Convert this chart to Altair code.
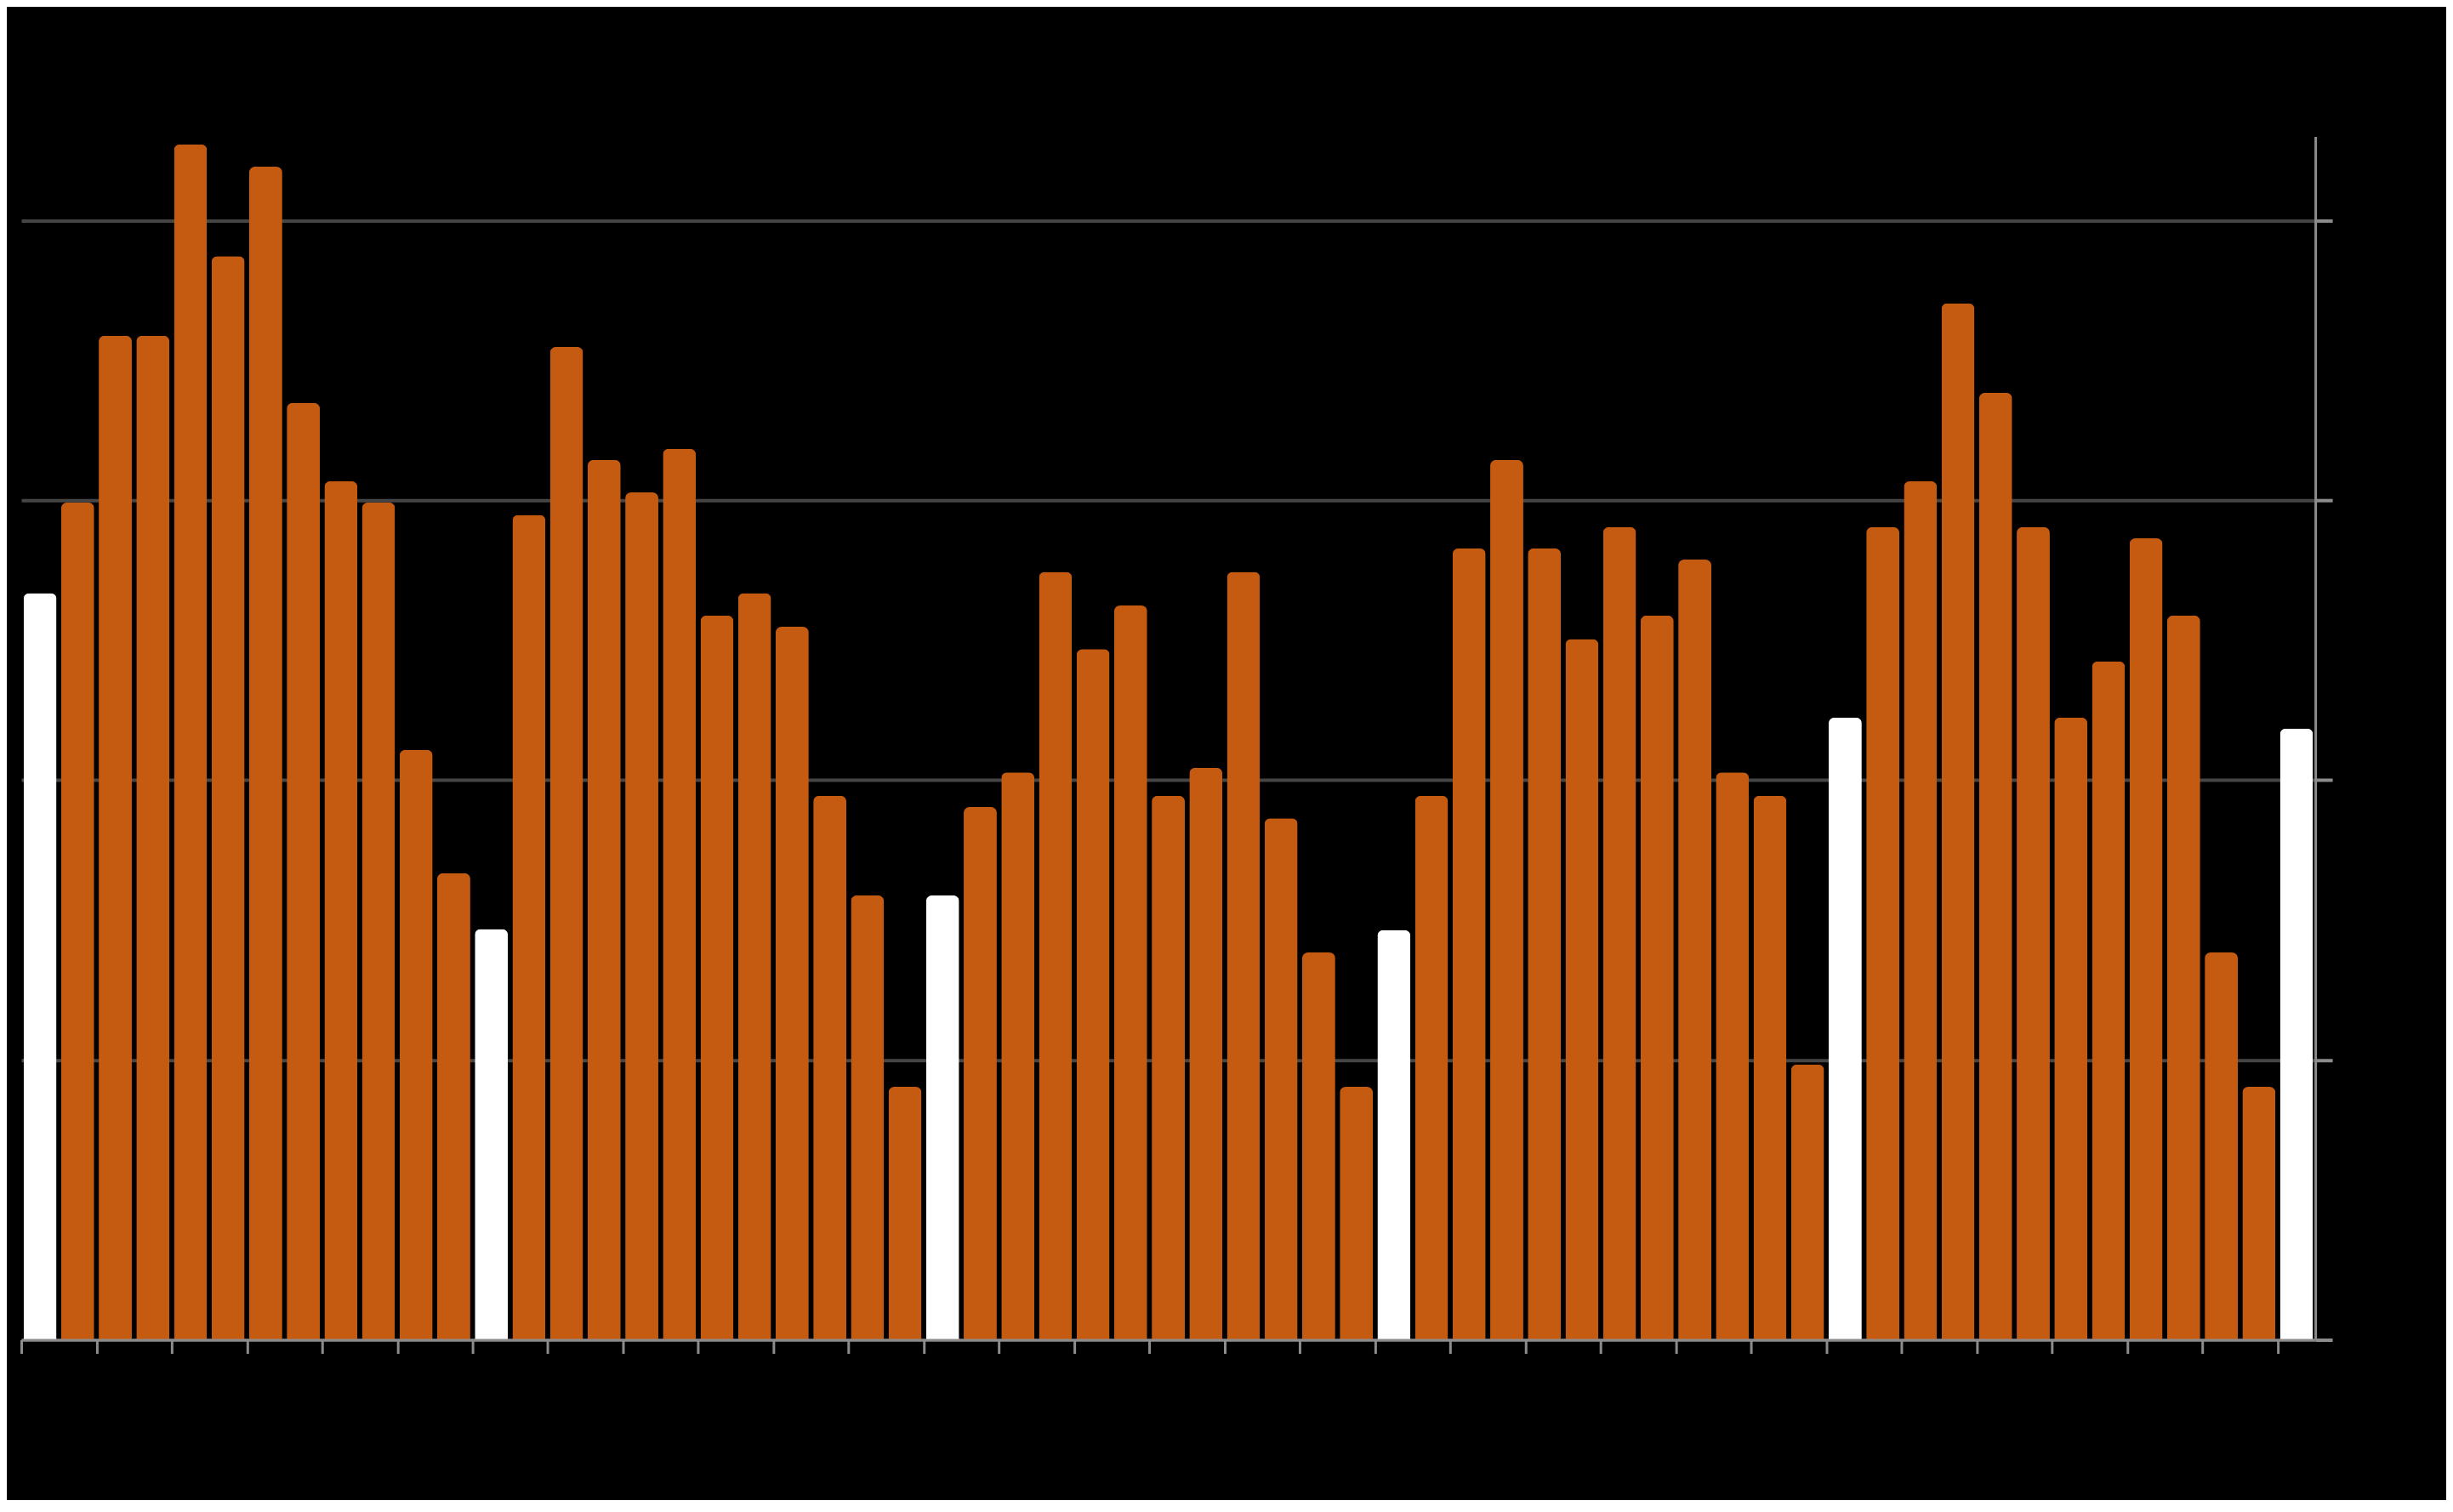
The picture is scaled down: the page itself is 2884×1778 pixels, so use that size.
import altair as alt
import pandas as pd

# Bar heights (gridlines at 0, 25, 50, 75, 100)
values = [
    66.7, 74.8, 89.7, 89.7, 106.8, 96.8, 104.8, 83.7, 76.7, 74.8, 52.7, 41.7,
    36.7, 73.7, 88.7, 78.6, 75.7, 79.6, 64.7, 66.7, 63.7, 48.6, 39.7, 22.6,
    39.7, 47.6, 50.7, 68.6, 61.7, 65.6, 48.6, 51.1, 68.6, 46.6, 34.6, 22.6,
    36.6, 48.6, 70.7, 78.6, 70.7, 62.6, 72.6, 64.7, 69.7, 50.7, 48.6, 24.6,
    55.6, 72.6, 76.7, 92.6, 84.6, 72.6, 55.6, 60.6, 71.6, 64.7, 34.6, 22.6,
    54.6,
]

# Which bars are drawn white (highlighted) and which orange
kinds = [
    "white", "orange", "orange", "orange", "orange", "orange", "orange", "orange", "orange", "orange", "orange", "orange",
    "white", "orange", "orange", "orange", "orange", "orange", "orange", "orange", "orange", "orange", "orange", "orange",
    "white", "orange", "orange", "orange", "orange", "orange", "orange", "orange", "orange", "orange", "orange", "orange",
    "white", "orange", "orange", "orange", "orange", "orange", "orange", "orange", "orange", "orange", "orange", "orange",
    "white", "orange", "orange", "orange", "orange", "orange", "orange", "orange", "orange", "orange", "orange", "orange",
    "white",
]

positions = list(range(len(values)))
x_ticks = positions[::2]
y_ticks = [0, 25, 50, 75, 100]

df = pd.DataFrame({"idx": positions, "value": values, "kind": kinds})

axis_gray = "#8c8c8c"

chart = (
    alt.Chart(df)
    .mark_bar(cornerRadiusTopLeft=7, cornerRadiusTopRight=7)
    .encode(
        x=alt.X(
            "idx:O",
            scale=alt.Scale(paddingInner=0.12, paddingOuter=0.06),
            axis=alt.Axis(
                values=x_ticks,
                bandPosition=0,
                tickOffset=-2.6,
                labels=False,
                title=None,
                grid=False,
                domainColor=axis_gray,
                domainWidth=3,
                tickColor=axis_gray,
                tickWidth=3,
                tickSize=16,
                zindex=1,
            ),
        ),
        y=alt.Y(
            "value:Q",
            scale=alt.Scale(domain=[0, 107.5], nice=False, zero=True),
            axis=alt.Axis(
                orient="right",
                values=y_ticks,
                labels=False,
                title=None,
                grid=True,
                gridColor="#454545",
                gridWidth=4,
                domainColor=axis_gray,
                domainWidth=3,
                tickColor=axis_gray,
                tickWidth=4,
                tickSize=20,
            ),
        ),
        color=alt.Color(
            "kind:N",
            scale=alt.Scale(domain=["white", "orange"], range=["#ffffff", "#c55a11"]),
            legend=None,
        ),
    )
    .properties(
        width=2699,
        height=1416,
        padding={"left": 15, "top": 152, "right": 132, "bottom": 170},
        background="#000000",
    )
    .configure_view(stroke=None)
)

chart.save("out.html", embed_options={"renderer": "svg", "actions": False})
